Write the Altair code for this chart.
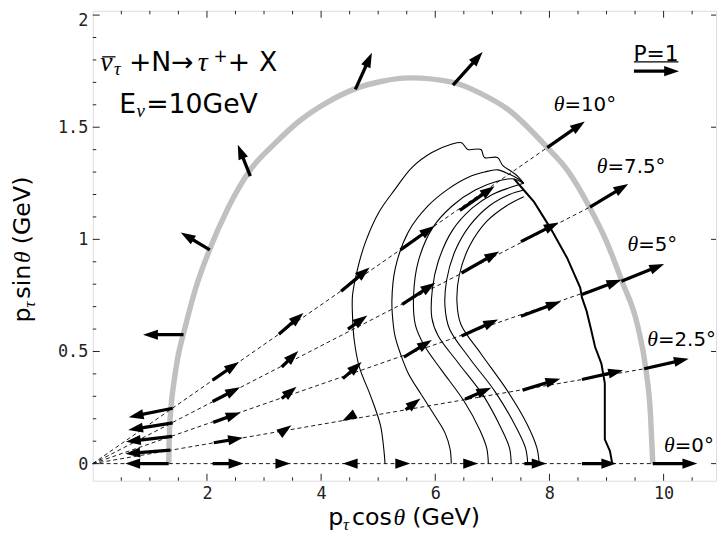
import math
import altair as alt
import pandas as pd

# ---------------- plot geometry ----------------
W, H = 630, 475
XMIN, XMAX = 0.0, 10.918
YMIN, YMAX = -0.0763, 2.019
SX = W / (XMAX - XMIN)
SY = H / (YMAX - YMIN)

# ---------------- data ----------------
# kinematic boundary (grey)
gray_x = [1.33, 1.34, 1.37, 1.42, 1.48, 1.62, 1.80, 2.04, 2.37, 2.76, 3.20, 3.63, 4.10, 4.58,
          5.07, 5.56, 6.31, 6.80, 7.27, 7.96, 8.31, 8.71, 9.00, 9.26, 9.55, 9.69, 9.77, 9.81]
gray_y = [0.00, 0.12, 0.25, 0.36, 0.46, 0.61, 0.78, 0.95, 1.14, 1.31, 1.43, 1.53, 1.61, 1.67,
          1.705, 1.72, 1.70, 1.65, 1.58, 1.41, 1.31, 1.14, 0.99, 0.82, 0.61, 0.42, 0.22, 0.00]

# dashed lines of constant angle (theta = 0, 2.5, 5, 7.5, 10 deg)
theta_labels = ["=0°", "=2.5°", "=5°", "=7.5°", "=10°"]
dash_end_x = [9.81, 9.69, 9.26, 8.71, 7.96]
dash_end_y = [0.0, 0.424, 0.82, 1.144, 1.409]
label_x = [10.196, 9.901, 9.555, 9.018, 8.263]
label_y = [0.052, 0.5225, 0.946, 1.297, 1.571]

# polarization arrows: tail (x0, y0) -> head (x1, y1)
arrow_x0 = [1.33, 2.10, 3.26, 4.60, 5.33, 6.52, 7.56, 8.57, 9.81,
            1.36, 2.12, 3.31, 4.55, 5.48, 6.52, 7.53, 8.57, 9.66,
            1.39, 2.11, 3.31, 4.38, 5.45, 6.46, 7.50, 8.57, 9.26,
            1.40, 2.10, 3.31, 4.47, 5.42, 6.46, 7.50, 8.71,
            1.40, 2.10, 3.26, 4.35, 5.39, 6.43, 7.96,
            1.59, 2.05, 2.76, 4.60, 6.31,
            9.48]
arrow_y0 = [0.0, 0.0, 0.0, 0.0, 0.0, 0.0, 0.0, 0.0, 0.0,
            0.060, 0.093, 0.140, 0.215, 0.240, 0.287, 0.328, 0.375, 0.423,
            0.122, 0.184, 0.290, 0.379, 0.475, 0.569, 0.657, 0.754, 0.813,
            0.182, 0.277, 0.431, 0.600, 0.710, 0.850, 0.990, 1.144,
            0.247, 0.372, 0.577, 0.769, 0.953, 1.129, 1.409,
            0.575, 0.953, 1.282, 1.669, 1.688,
            1.75]
arrow_x1 = [0.57, 2.64, 3.46, 4.38, 5.56, 6.75, 7.95, 9.17, 10.59,
            0.57, 2.63, 3.48, 4.37, 5.74, 6.98, 8.19, 9.29, 10.44,
            0.58, 2.59, 3.57, 4.71, 5.94, 7.10, 8.20, 9.26, 10.01,
            0.62, 2.58, 3.60, 4.81, 6.00, 7.12, 8.16, 9.38,
            0.63, 2.56, 3.69, 4.85, 5.98, 7.04, 8.62,
            0.88, 1.54, 2.54, 4.89, 6.83,
            10.27]
arrow_y1 = [0.0, 0.0, 0.0, 0.0, 0.0, 0.0, 0.0, 0.0, 0.0,
            0.044, 0.115, 0.171, 0.190, 0.290, 0.338, 0.379, 0.416, 0.468,
            0.097, 0.228, 0.343, 0.453, 0.551, 0.643, 0.723, 0.820, 0.890,
            0.150, 0.340, 0.502, 0.660, 0.806, 0.946, 1.075, 1.247,
            0.207, 0.453, 0.672, 0.875, 1.060, 1.237, 1.526,
            0.575, 1.031, 1.422, 1.832, 1.835,
            1.75]

# contour curves (thin) and the thick line
c1_x = [5.12, 5.10, 5.04, 4.87, 4.67, 4.58, 4.55, 4.55, 4.64, 4.78, 5.01, 5.30, 5.59, 5.94, 6.28,
        6.46, 6.57, 6.80, 6.86, 7.09, 7.18, 7.35, 7.45, 7.55]
c1_y = [0.00, 0.06, 0.17, 0.30, 0.43, 0.55, 0.66, 0.75, 0.87, 0.99, 1.12, 1.225, 1.32, 1.387, 1.424,
        1.431, 1.401, 1.401, 1.365, 1.365, 1.33, 1.30, 1.28, 1.25]
c2_x = [6.28, 6.26, 6.17, 6.00, 5.76, 5.53, 5.39, 5.30, 5.27, 5.24, 5.30, 5.53, 5.88, 6.23, 6.58,
        6.86, 7.09, 7.30, 7.45, 7.55]
c2_y = [0.00, 0.064, 0.137, 0.21, 0.306, 0.401, 0.49, 0.563, 0.607, 0.725, 0.872, 1.034, 1.151, 1.225,
        1.277, 1.30, 1.31, 1.29, 1.27, 1.25]
c3_x = [6.93, 6.90, 6.78, 6.50, 6.10, 5.80, 5.65, 5.62, 5.70, 5.95, 6.30, 6.70, 7.10, 7.35, 7.55]
c3_y = [0.00, 0.07, 0.15, 0.28, 0.42, 0.53, 0.62, 0.75, 0.90, 1.05, 1.15, 1.22, 1.26, 1.27, 1.25]
c4_x = [7.33, 7.30, 7.15, 6.85, 6.40, 6.05, 5.94, 5.95, 6.05, 6.30, 6.65, 7.00, 7.30, 7.55]
c4_y = [0.00, 0.07, 0.16, 0.30, 0.45, 0.57, 0.65, 0.78, 0.90, 1.04, 1.14, 1.20, 1.23, 1.25]
c5_x = [7.62, 7.58, 7.40, 7.05, 6.60, 6.25, 6.17, 6.20, 6.35, 6.60, 6.95, 7.30, 7.55]
c5_y = [0.00, 0.07, 0.17, 0.32, 0.47, 0.60, 0.70, 0.82, 0.95, 1.06, 1.15, 1.20, 1.22]
c6_x = [7.82, 7.78, 7.60, 7.25, 6.80, 6.45, 6.38, 6.42, 6.60, 6.90, 7.25, 7.55]
c6_y = [0.00, 0.07, 0.18, 0.33, 0.49, 0.62, 0.72, 0.84, 0.97, 1.08, 1.15, 1.19]
thick_x = [7.38, 7.55, 7.73, 8.02, 8.31, 8.54, 8.57, 8.65, 8.72, 8.80, 8.91, 8.97, 8.97, 9.06, 9.10]
thick_y = [1.27, 1.22, 1.167, 1.049, 0.917, 0.784, 0.74, 0.681, 0.608, 0.52, 0.446, 0.358, 0.108, 0.056, 0.0]

# axis ticks
x_major = [2, 4, 6, 8, 10]
x_minor = [0.5, 1, 1.5, 2.5, 3, 3.5, 4.5, 5, 5.5, 6.5, 7, 7.5, 8.5, 9, 9.5, 10.5]
y_major = [0, 0.5, 1, 1.5, 2]
y_minor = [0.1, 0.2, 0.3, 0.4, 0.6, 0.7, 0.8, 0.9, 1.1, 1.2, 1.3, 1.4, 1.6, 1.7, 1.8, 1.9]

# ---------------- scales / axes ----------------
xs = alt.Scale(domain=[XMIN, XMAX], nice=False, zero=False)
ys = alt.Scale(domain=[YMIN, YMAX], nice=False, zero=False)
AXX = alt.Axis(values=x_major, ticks=False, domain=False, grid=False, labelFont="DejaVu Sans Mono",
               labelFontSize=17, labelColor="#222", labelPadding=5, title=None, format="d")
AXY = alt.Axis(values=y_major, ticks=False, domain=False, grid=False, labelFont="DejaVu Sans Mono",
               labelFontSize=17, labelColor="#222", labelPadding=5, title=None, format=".1~f",
               labelOffset={"condition": {"test": "datum.value == 2", "value": 5.5}, "value": 0.5})
X = lambda f: alt.X(f, type="quantitative", scale=xs, axis=AXX)
Y = lambda f: alt.Y(f, type="quantitative", scale=ys, axis=AXY)


def tick_layer(vals, axis, side, length):
    df = pd.DataFrame({"v": vals})
    m = alt.Chart(df).mark_rule(color="#222", strokeWidth=1)
    if axis == "x":
        if side == "bottom":
            return m.encode(x=X("v"), y=alt.value(H), y2=alt.value(H - length))
        return m.encode(x=X("v"), y=alt.value(0), y2=alt.value(length))
    if side == "left":
        return m.encode(y=Y("v"), x=alt.value(0), x2=alt.value(length))
    return m.encode(y=Y("v"), x=alt.value(W), x2=alt.value(W - length))


ticks = [
    tick_layer(x_major, "x", "bottom", 7), tick_layer(x_minor, "x", "bottom", 3.5),
    tick_layer(x_major, "x", "top", 7), tick_layer(x_minor, "x", "top", 3.5),
    tick_layer(y_major, "y", "left", 7), tick_layer(y_minor, "y", "left", 3.5),
    tick_layer(y_major, "y", "right", 5),
]

# grey boundary
gray_df = pd.DataFrame({"x": gray_x, "y": gray_y})
gray = alt.Chart(gray_df).mark_line(color="#c0c0c0", strokeWidth=5.5, interpolate="monotone").encode(
    x=X("x"), y=Y("y"))

# dashed lines from origin
dash_df = pd.DataFrame({"x": [0.0] * 5, "y": [0.0] * 5, "x2": dash_end_x, "y2": dash_end_y})
dashes = alt.Chart(dash_df).mark_rule(color="black", strokeWidth=0.9, strokeDash=[4, 3]).encode(
    x=X("x"), y=Y("y"), x2="x2:Q", y2="y2:Q")

# contours
rows = []
for cid, (cx, cy) in enumerate([(c1_x, c1_y), (c2_x, c2_y), (c3_x, c3_y), (c4_x, c4_y),
                                (c5_x, c5_y), (c6_x, c6_y)]):
    for i, (a, b) in enumerate(zip(cx, cy)):
        rows.append({"c": cid, "i": i, "x": a, "y": b})
cont_df = pd.DataFrame(rows)
contours = alt.Chart(cont_df).mark_line(color="black", strokeWidth=1.1, interpolate="catmull-rom").encode(
    x=X("x"), y=Y("y"), detail="c:N", order="i:Q")
thick_df = pd.DataFrame({"x": thick_x, "y": thick_y, "i": list(range(len(thick_x)))})
thick = alt.Chart(thick_df).mark_line(color="black", strokeWidth=2).encode(
    x=X("x"), y=Y("y"), order="i:Q")

# arrows
HEAD = 15.0
shaft_rows, head_rows = [], []
for x0, y0, x1, y1 in zip(arrow_x0, arrow_y0, arrow_x1, arrow_y1):
    dx = (x1 - x0) * SX
    dy = -(y1 - y0) * SY
    L = math.hypot(dx, dy)
    ux, uy = dx / L, dy / L
    hc = HEAD / 2
    cx = x1 - ux * hc / SX
    cy = y1 + uy * hc / SY
    ang = math.degrees(math.atan2(dy, dx)) % 360
    head_rows.append({"x": cx, "y": cy, "a": ang})
    if L > hc:
        shaft_rows.append({"x": x0, "y": y0, "x2": cx, "y2": cy})
shaft_df = pd.DataFrame(shaft_rows)
head_df = pd.DataFrame(head_rows)
shafts = alt.Chart(shaft_df).mark_rule(color="black", strokeWidth=3.3).encode(
    x=X("x"), y=Y("y"), x2="x2:Q", y2="y2:Q")
heads = alt.Chart(head_df).mark_point(
    shape="M-1,-0.68L1,0L-1,0.68Z", filled=True, color="black", opacity=1, size=HEAD * HEAD,
    strokeWidth=0).encode(x=X("x"), y=Y("y"), angle=alt.Angle("a:Q", scale=None))

SANS = "DejaVu Sans"
SERIF = "Liberation Serif"

# theta labels
lab_df = pd.DataFrame({"x": label_x, "y": label_y, "t": theta_labels})
lab_theta = alt.Chart(lab_df).mark_text(align="right", baseline="alphabetic", font=SERIF,
                                        fontStyle="italic", fontSize=22, color="black", text="θ").encode(
    x=X("x"), y=Y("y"))
lab_rest = alt.Chart(lab_df).mark_text(align="left", baseline="alphabetic", font=SANS,
                                       fontSize=20, color="black").encode(
    x=X("x"), y=Y("y"), text="t:N")


# free text helpers (pixel positions inside the plot frame)
def txt(s, x, y, size, font=SANS, style="normal", angle=0, align="left"):
    return alt.Chart(pd.DataFrame({"s": [s]})).mark_text(
        align=align, baseline="alphabetic", font=font, fontSize=size, fontStyle=style,
        angle=angle, color="black").encode(x=alt.value(x), y=alt.value(y), text="s:N")


def hline(x1, x2, y, w=1.3):
    return alt.Chart(pd.DataFrame({"a": [0]})).mark_rule(color="black", strokeWidth=w).encode(
        x=alt.value(x1), x2=alt.value(x2), y=alt.value(y))


texts = [
    # reaction
    txt("ν", 7.5, 60.5, 28, SERIF, "italic"), hline(9.5, 23, 46.5),
    txt("τ", 21.5, 64.5, 19, SERIF, "italic"),
    txt("+N", 36.5, 60.5, 27), txt("→", 79, 60.5, 27),
    txt("τ", 106, 60.5, 28, SERIF, "italic"), txt("+", 122, 52, 17),
    txt("+", 136.5, 60.5, 27), txt("X", 168, 60.5, 27),
    # energy
    txt("E", 26.8, 103.7, 27), txt("ν", 44.2, 107.5, 19, SERIF, "italic"),
    txt("=10GeV", 54, 103.7, 27),
    # legend
    txt("P=1", 546.5, 50.5, 22), hline(547, 592, 51.5, 1.2),
    # x title
    txt("p", 238, 520, 24), txt("τ", 253, 525, 17, SERIF, "italic"), txt("cos", 262, 520, 24),
    txt("θ", 304, 520, 24, SERIF, "italic"), txt("(GeV)", 323, 520, 24),
    # y title (rotated)
    txt("p", -63, 315, 24, angle=270), txt("τ", -58, 300, 17, SERIF, "italic", angle=270),
    txt("sin", -63, 291, 24, angle=270), txt("θ", -63, 255, 24, SERIF, "italic", angle=270),
    txt("(GeV)", -63, 236, 24, angle=270),
]

chart = alt.layer(
    gray, dashes, contours, thick, shafts, heads, lab_theta, lab_rest, *ticks, *texts
).properties(
    width=W, height=H, autosize="none",
    padding={"left": 85.7, "top": 0, "right": 1, "bottom": 53},
).configure_view(stroke="#222", strokeWidth=1.2).configure(background="white")

chart.save("out.html", embed_options={"renderer": "svg", "actions": False})
